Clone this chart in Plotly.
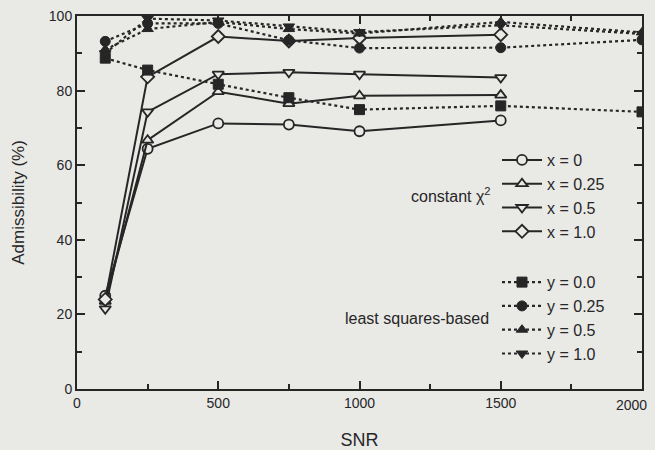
import plotly.graph_objects as go

# ---- data ----
snr_const = [100, 250, 500, 750, 1000, 1500]
const_x0 = [25.0, 64.4, 71.2, 70.9, 69.1, 72.0]
const_x025 = [23.5, 66.7, 79.7, 76.5, 78.6, 78.8]
const_x05 = [21.5, 74.3, 84.4, 84.9, 84.4, 83.5]
const_x10 = [24.0, 83.7, 94.5, 93.3, 94.1, 95.0]

snr_ls = [100, 250, 500, 750, 1000, 1500, 2000]
ls_y00 = [88.7, 85.5, 81.7, 78.1, 74.9, 75.9, 74.3]
ls_y025 = [93.2, 98.0, 98.0, 93.5, 91.4, 91.5, 93.6]
ls_y05 = [91.0, 96.5, 98.4, 96.5, 95.3, 98.4, 95.6]
ls_y10 = [90.0, 99.3, 98.8, 97.2, 95.7, 97.5, 95.2]

x_ticks = [0, 500, 1000, 1500]
x_last_tick = 2000
y_ticks = [0, 20, 40, 60, 80, 100]

BG = "#e9e9e6"
INK = "#262626"
FONT = "Liberation Sans, Arial, sans-serif"

fig = go.Figure()

const_series = [
    ("x = 0", const_x0, "circle"),
    ("x = 0.25", const_x025, "triangle-up"),
    ("x = 0.5", const_x05, "triangle-down"),
    ("x = 1.0", const_x10, "diamond"),
]
for name, vals, sym in const_series:
    fig.add_trace(go.Scatter(
        x=snr_const, y=vals, name=name, mode="lines+markers",
        legendgroup="const",
        line=dict(color=INK, width=2),
        marker=dict(symbol=sym, size=10, color=BG, line=dict(color=INK, width=1.8)),
    ))

ls_series = [
    ("y = 0.0", ls_y00, "square"),
    ("y = 0.25", ls_y025, "circle"),
    ("y = 0.5", ls_y05, "triangle-up"),
    ("y = 1.0", ls_y10, "triangle-down"),
]
for name, vals, sym in ls_series:
    fig.add_trace(go.Scatter(
        x=snr_ls, y=vals, name=name, mode="lines+markers",
        legendgroup="ls",
        line=dict(color=INK, width=2.2, dash="dot"),
        marker=dict(symbol=sym, size=10, color=INK, line=dict(color=INK, width=1)),
    ))

L, R, T, B = 77, 13, 16, 61
PW, PH = 655 - L - R, 450 - T - B

fig.add_annotation(text="constant χ<sup>2</sup>", xref="paper", yref="paper",
                   x=(493 - L) / PW, y=(450 - B - 195) / PH, xanchor="right", yanchor="middle",
                   showarrow=False, font=dict(family=FONT, size=16, color=INK))
fig.add_annotation(text="least squares-based", xref="paper", yref="paper",
                   x=(491 - L) / PW, y=(450 - B - 318) / PH, xanchor="right", yanchor="middle",
                   showarrow=False, font=dict(family=FONT, size=16, color=INK))
# last x tick label, pulled inside the page like in the reference
fig.add_annotation(text=str(x_last_tick), xref="x", yref="paper",
                   x=x_last_tick, y=0, xanchor="right", yanchor="middle",
                   xshift=7, yshift=-16, showarrow=False,
                   font=dict(family=FONT, size=14, color=INK))

axis_common = dict(
    showline=True, linecolor=INK, linewidth=2, mirror="ticks",
    ticks="inside", ticklen=8, tickwidth=1.5, tickcolor=INK,
    showgrid=False, zeroline=False, automargin=False,
    tickfont=dict(family=FONT, size=14, color=INK),
)

fig.update_xaxes(range=[0, 2000], tickvals=x_ticks,
                 minor=dict(dtick=250, ticks="inside", ticklen=5, tickcolor=INK, tickwidth=1.5),
                 title=dict(text="SNR", font=dict(family=FONT, size=18, color=INK), standoff=24),
                 **axis_common)
fig.update_yaxes(range=[0, 100], tickvals=y_ticks,
                 minor=dict(dtick=10, ticks="inside", ticklen=5, tickcolor=INK, tickwidth=1.5),
                 title=dict(text="Admissibility (%)", font=dict(family=FONT, size=17, color=INK), standoff=20),
                 **axis_common)

fig.update_layout(
    width=655, height=450,
    margin=dict(l=L, r=R, t=T, b=B),
    paper_bgcolor=BG, plot_bgcolor=BG,
    font=dict(family=FONT, color=INK),
    legend=dict(x=(497 - L) / PW, y=(450 - B - 143) / PH, xanchor="left", yanchor="top",
                bgcolor="rgba(0,0,0,0)", font=dict(family=FONT, size=16, color=INK),
                tracegroupgap=27, itemwidth=40),
)

fig.write_html("out.html")
